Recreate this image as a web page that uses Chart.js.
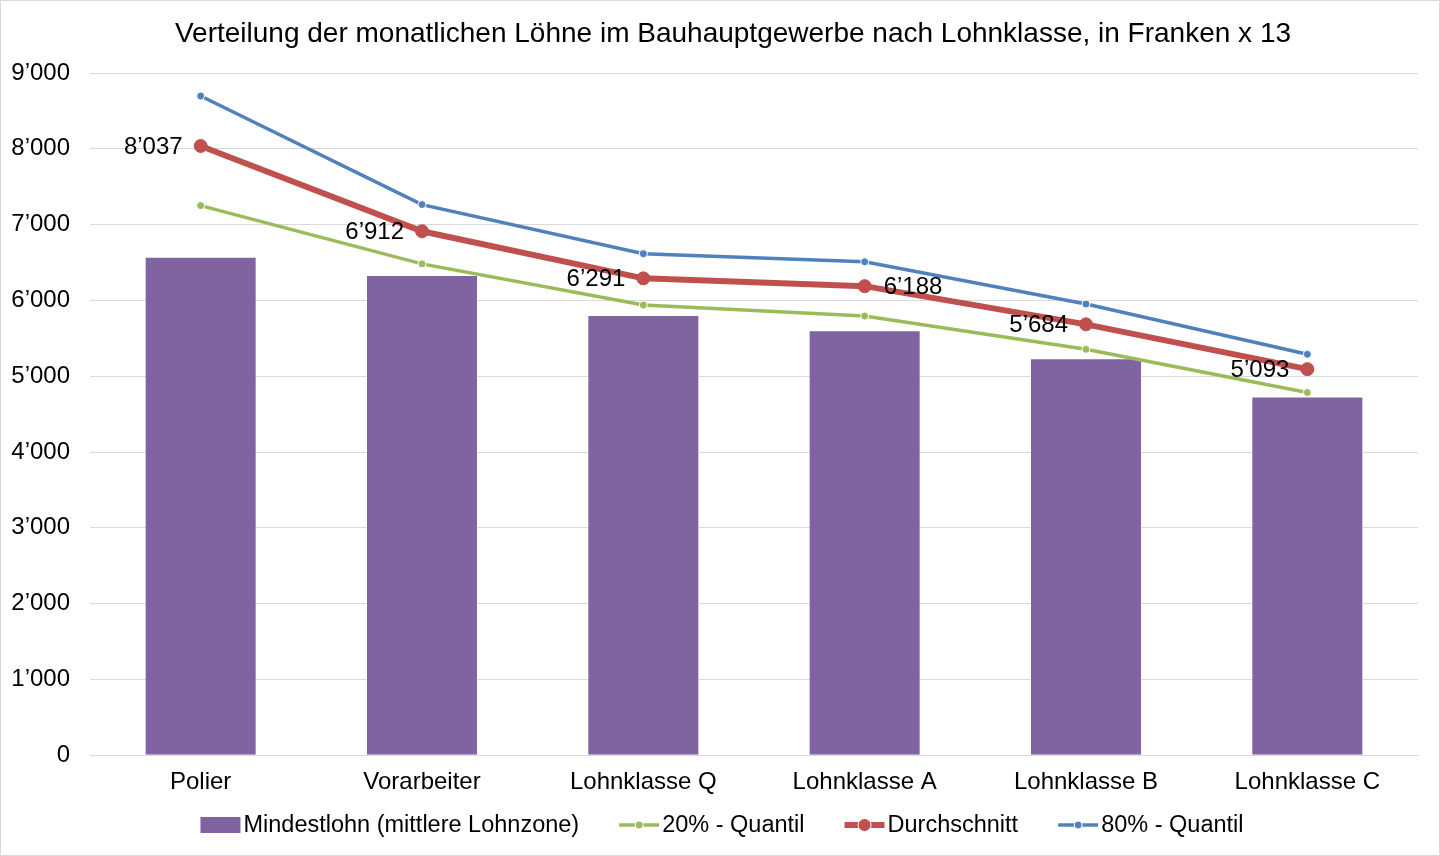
<!DOCTYPE html>
<html>
<head>
<meta charset="utf-8">
<script src="https://cdn.jsdelivr.net/npm/chart.js@4/dist/chart.umd.min.js"></script>
<style>
  html, body { margin:0; padding:0; background:#fff; }
  #wrap { width:1440px; height:856px; position:relative; }
</style>
</head>
<body>
<div id="wrap"><canvas id="c"></canvas></div>
<script>
const categories = ['Polier', 'Vorarbeiter', 'Lohnklasse Q', 'Lohnklasse A', 'Lohnklasse B', 'Lohnklasse C'];
const mindestlohn = [6575, 6336, 5806, 5607, 5236, 4732];
const quantil20 = [7251, 6482, 5939, 5793, 5355, 4785];
const durchschnitt = [8037, 6912, 6291, 6188, 5684, 5093];
const quantil80 = [8696, 7264, 6615, 6509, 5952, 5289];
// which side the red value labels sit on
const labelSide = ['left', 'left', 'left', 'right', 'left', 'left'];
const titleText = 'Verteilung der monatlichen Löhne im Bauhauptgewerbe nach Lohnklasse, in Franken x 13';

const FONT = '"Liberation Sans", Arial, sans-serif';

function fmt(v){
  return String(Math.round(v)).replace(/\B(?=(\d{3})+(?!\d))/g, '\u2019');
}

// white background, frame and title
const framePlugin = {
  id:'frame',
  beforeDraw(chart){
    const ctx = chart.ctx;
    ctx.save();
    ctx.fillStyle = '#fff';
    ctx.fillRect(0,0,chart.width,chart.height);
    ctx.strokeStyle = '#d9d9d9';
    ctx.lineWidth = 1;
    ctx.strokeRect(0.5,0.5,chart.width-1,chart.height-1);
    ctx.font = '28px ' + FONT;
    ctx.fillStyle = '#000';
    ctx.textAlign = 'center';
    ctx.textBaseline = 'middle';
    ctx.fillText(titleText, 733, 34);
    ctx.restore();
  }
};

// value labels on the Durchschnitt line
const valueLabels = {
  id:'valueLabels',
  afterDatasetsDraw(chart){
    const ctx = chart.ctx;
    const meta = chart.getDatasetMeta(2);
    ctx.save();
    ctx.font = '24px ' + FONT;
    ctx.fillStyle = '#000';
    ctx.textBaseline = 'middle';
    meta.data.forEach((pt, i)=>{
      const txt = fmt(durchschnitt[i]);
      if(labelSide[i] === 'right'){
        ctx.textAlign = 'left';
        ctx.fillText(txt, pt.x + 19, pt.y + 1);
      } else {
        ctx.textAlign = 'right';
        ctx.fillText(txt, pt.x - 18, pt.y + 1);
      }
    });
    ctx.restore();
  }
};

// Excel-like legend at the bottom
const bottomLegend = {
  id:'bottomLegend',
  afterDraw(chart){
    const ctx = chart.ctx;
    const y = 825;
    ctx.save();
    ctx.font = '23.5px ' + FONT;
    ctx.textBaseline = 'middle';
    ctx.textAlign = 'left';
    const items = chart.data.datasets.map(ds=>({label:ds.label, ds}));
    const sym = 40, gap = 3, itemGap = 40;
    let total = 0;
    items.forEach(it=>{ it.w = sym + gap + ctx.measureText(it.label).width; total += it.w; });
    total += itemGap * (items.length - 1);
    let x = 722 - total/2;
    items.forEach(it=>{
      const ds = it.ds;
      if(ds.type === 'bar' || !ds.type){
        ctx.fillStyle = ds.backgroundColor;
        ctx.fillRect(x, y-8, sym, 16);
      } else {
        ctx.strokeStyle = ds.borderColor;
        ctx.lineWidth = ds.borderWidth;
        ctx.beginPath(); ctx.moveTo(x, y); ctx.lineTo(x+sym, y); ctx.stroke();
        ctx.beginPath(); ctx.arc(x+sym/2, y, ds.pointRadius, 0, Math.PI*2);
        ctx.fillStyle = ds.pointBackgroundColor; ctx.fill();
        ctx.lineWidth = 1; ctx.strokeStyle = '#fff'; ctx.stroke();
      }
      ctx.fillStyle = '#000';
      ctx.fillText(it.label, x + sym + gap, y + 1);
      x += it.w + itemGap;
    });
    ctx.restore();
  }
};

new Chart(document.getElementById('c'), {
  data:{
    labels: categories,
    datasets:[
      { type:'bar', label:'Mindestlohn (mittlere Lohnzone)', data:mindestlohn,
        backgroundColor:'#8064A2', borderColor:'rgba(255,255,255,0.6)', borderWidth:1,
        categoryPercentage:1, barPercentage:0.506, order:4 },
      { type:'line', label:'20% - Quantil', data:quantil20,
        borderColor:'#9BBB59', backgroundColor:'#9BBB59', borderWidth:3.5,
        pointRadius:4, pointBackgroundColor:'#9BBB59', pointBorderColor:'#fff', pointBorderWidth:1,
        tension:0, order:3 },
      { type:'line', label:'Durchschnitt', data:durchschnitt,
        borderColor:'#C0504D', backgroundColor:'#C0504D', borderWidth:6,
        pointRadius:6.5, pointBackgroundColor:'#C0504D', pointBorderColor:'#C0504D', pointBorderWidth:1,
        tension:0, order:1 },
      { type:'line', label:'80% - Quantil', data:quantil80,
        borderColor:'#4F81BD', backgroundColor:'#4F81BD', borderWidth:3.5,
        pointRadius:4, pointBackgroundColor:'#4F81BD', pointBorderColor:'#fff', pointBorderWidth:1,
        tension:0, order:2 }
    ]
  },
  options:{
    responsive:true,
    maintainAspectRatio:false,
    animation:false,
    layout:{ padding:{ left:10, right:22, top:73, bottom:46 } },
    plugins:{
      legend:{ display:false },
      tooltip:{ enabled:false },
      title:{ display:false }
    },
    scales:{
      x:{
        grid:{ display:false, drawTicks:false },
        border:{ display:true, color:'#d9d9d9', width:1 },
        ticks:{ color:'#000', font:{ family:FONT, size:24 }, padding:13 }
      },
      y:{
        min:0, max:9000,
        afterFit(scale){ scale.width = 80; },
        grid:{ color:'#d9d9d9', lineWidth:1, drawTicks:false },
        border:{ display:false },
        ticks:{ stepSize:1000, color:'#000', font:{ family:FONT, size:24 }, padding:20,
          callback:(v)=>fmt(v) }
      }
    }
  },
  plugins:[framePlugin, valueLabels, bottomLegend]
});
</script>
</body>
</html>
